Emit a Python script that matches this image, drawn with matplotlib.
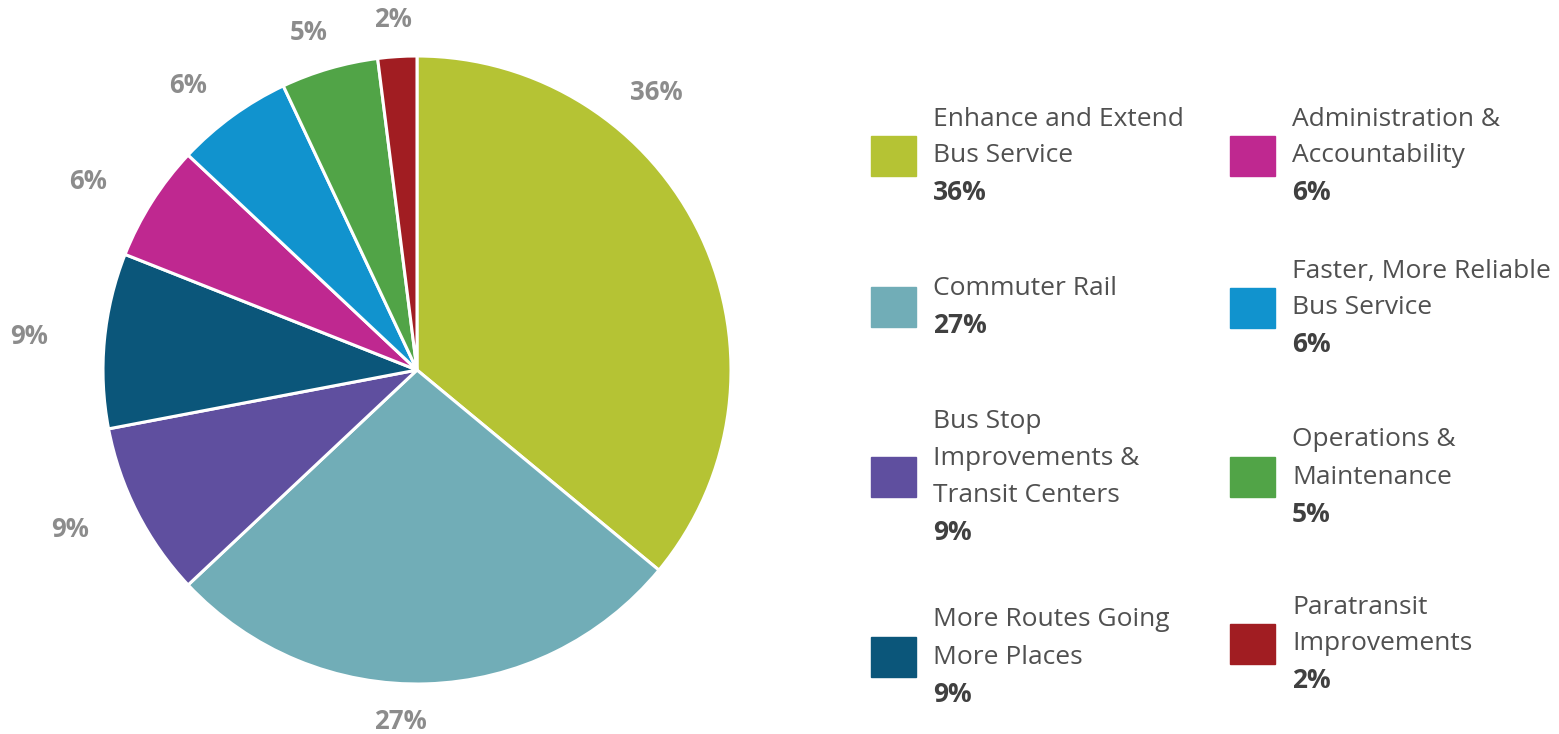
import numpy as np
import matplotlib
matplotlib.use('Agg')
import matplotlib.pyplot as plt
from matplotlib.patches import Rectangle

# funding split by program category
categories = [
    "Enhance and Extend\nBus Service",
    "Commuter Rail",
    "Bus Stop\nImprovements &\nTransit Centers",
    "More Routes Going\nMore Places",
    "Administration &\nAccountability",
    "Faster, More Reliable\nBus Service",
    "Operations &\nMaintenance",
    "Paratransit\nImprovements",
]
shares = [36, 27, 9, 9, 6, 6, 5, 2]
colors = ["#B5C334", "#71ADB7", "#5F4F9F", "#0B567A",
          "#BF2890", "#1193CE", "#51A447", "#A11D22"]

W, H = 1559, 734
FONT = "Open Sans"
TEXT_COLOR = "#505050"
PCT_COLOR = "#8C8C8C"


def fx(px):
    return px / W


def fy(py):
    return 1 - py / H


fig = plt.figure(figsize=(W / 100, H / 100), dpi=100)

# pie area: center (417, 370), radius 314 px
cx, cy, r = 417, 370, 314
ax = fig.add_axes([fx(cx - r), fy(cy + r), 2 * r / W, 2 * r / H])
wedges, _ = ax.pie(shares, colors=colors, startangle=90, counterclock=False,
                   radius=1, wedgeprops=dict(edgecolor="white", linewidth=2.2))
ax.set_xlim(-1, 1)
ax.set_ylim(-1, 1)
ax.set_aspect("equal")
ax.axis("off")

# outside percentage labels placed on an ellipse around the pie
label_angle_override = {0: 52, 1: -92.5}
for i, w in enumerate(wedges):
    theta = label_angle_override.get(i, (w.theta1 + w.theta2) / 2)
    t = np.deg2rad(theta)
    ax.text(1.24 * np.cos(t), 1.12 * np.sin(t), f"{shares[i]}%",
            ha="center", va="center", fontsize=18.5, fontweight="bold",
            color=PCT_COLOR, family=FONT, clip_on=False)

# legend built by hand in two columns
line_h = 37
columns = [(871, 933), (1230, 1292)]
row_centers = [[156, 307, 477, 657], [156, 308, 477, 644]]
for i, (name, val, col) in enumerate(zip(categories, shares, colors)):
    c = 0 if i < 4 else 1
    row = i % 4
    sq_x, txt_x = columns[c]
    yc = row_centers[c][row]
    fig.patches.append(Rectangle((fx(sq_x), fy(yc + 20)), 45 / W, 40 / H,
                                 transform=fig.transFigure, color=col))
    lines = name.split("\n") + [f"{val}%"]
    n = len(lines)
    for k, line in enumerate(lines):
        y = yc + (k - (n - 1) / 2) * line_h
        bold = k == n - 1
        fig.text(fx(txt_x), fy(y), line, ha="left", va="center",
                 fontsize=19, family=FONT,
                 fontweight="bold" if bold else "normal",
                 color="#404040" if bold else TEXT_COLOR)

fig.savefig("out.png", dpi=100, facecolor="white")
